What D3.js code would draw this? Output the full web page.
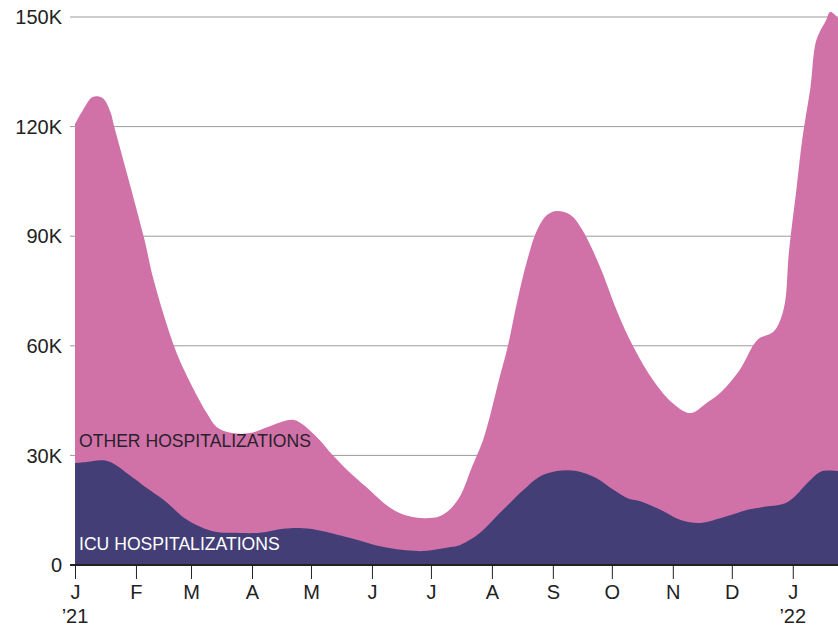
<!DOCTYPE html>
<html>
<head>
<meta charset="utf-8">
<script src="https://cdn.jsdelivr.net/npm/d3@7"></script>
<style>
  body { margin: 0; background: #fff; }
  svg text { font-family: "Liberation Sans", Arial, Helvetica, sans-serif; }
</style>
</head>
<body>
<script>
var width = 838, height = 628;
var margin = {top: 17, right: 0, bottom: 63, left: 75};

// all hospitalizations (top of the stack)
var totalDates = ["2021-01-01","2021-01-05","2021-01-10","2021-01-15","2021-01-19","2021-01-21",
  "2021-02-05","2021-02-10","2021-02-21","2021-02-28","2021-03-09","2021-03-14","2021-03-22",
  "2021-03-31","2021-04-09","2021-04-20","2021-04-24","2021-05-04","2021-05-12","2021-05-21",
  "2021-05-29","2021-06-07","2021-06-15","2021-06-24","2021-07-02","2021-07-06","2021-07-11",
  "2021-07-16","2021-07-22","2021-07-28","2021-08-05","2021-08-09","2021-08-14","2021-08-19",
  "2021-08-24","2021-08-29","2021-09-03","2021-09-10","2021-09-16","2021-09-25","2021-10-04",
  "2021-10-12","2021-10-22","2021-11-01","2021-11-10","2021-11-18","2021-11-25","2021-12-05",
  "2021-12-14","2021-12-22","2021-12-25","2021-12-28","2021-12-30","2022-01-03","2022-01-06",
  "2022-01-10","2022-01-13","2022-01-18","2022-01-20","2022-01-24"];
var totalValues = [120700,124500,128100,127800,124000,119900,
  89800,78000,59000,50600,41600,37800,36100,
  36100,37800,39700,39400,35000,30100,25200,
  21400,17000,14200,12900,12900,13500,15400,
  19000,27000,35000,51500,59700,72500,83500,
  91700,95800,96900,95800,91700,81600,69000,
  59700,50600,44300,41600,44300,47100,53400,
  61600,63800,66200,71700,85400,103500,117200,
  130800,143700,149200,151400,149700];

// ICU hospitalizations (bottom of the stack)
var icuDates = ["2021-01-01","2021-01-07","2021-01-14","2021-01-19","2021-01-30","2021-02-08",
  "2021-02-17","2021-02-25","2021-03-06","2021-03-14","2021-03-22","2021-04-05","2021-04-17",
  "2021-04-25","2021-05-04","2021-05-21","2021-06-07","2021-06-24","2021-07-02","2021-07-11",
  "2021-07-16","2021-07-26","2021-08-05","2021-08-17","2021-08-25","2021-09-03","2021-09-13",
  "2021-09-23","2021-10-02","2021-10-09","2021-10-15","2021-10-27","2021-11-05","2021-11-15",
  "2021-11-26","2021-12-09","2021-12-17","2021-12-27","2022-01-01","2022-01-10","2022-01-16",
  "2022-01-24"];
var icuValues = [27900,28200,28700,28200,24100,20500,
  17000,13100,10400,9000,8800,8800,9900,
  10100,9600,7400,4900,3800,4100,4900,
  5500,8800,14200,20500,24100,25700,25700,
  23800,20500,18300,17500,14800,12300,11500,
  12900,15100,15900,16700,18300,23300,25700,
  25700];

var yTicks = [0, 30000, 60000, 90000, 120000, 150000];
var yTickLabels = ["0", "30K", "60K", "90K", "120K", "150K"];
var monthLabels = ["J","F","M","A","M","J","J","A","S","O","N","D","J"];
var yearLabels = {"2021-01-01": "\u201921", "2022-01-01": "\u201922"};

var parse = d3.timeParse("%Y-%m-%d");
var total = totalDates.map(function(d, i) { return {date: parse(d), value: totalValues[i]}; });
var icu = icuDates.map(function(d, i) { return {date: parse(d), value: icuValues[i]}; });

var x = d3.scaleTime()
    .domain([parse("2021-01-01"), parse("2022-01-24")])
    .range([margin.left, width - margin.right]);
var y = d3.scaleLinear()
    .domain([0, 150000])
    .range([height - margin.bottom, margin.top]);

var svg = d3.select("body").append("svg")
    .attr("width", width)
    .attr("height", height);

// gridlines
svg.append("g").selectAll("line")
    .data(yTicks.slice(1))
  .enter().append("line")
    .attr("x1", margin.left - 5)
    .attr("x2", width)
    .attr("y1", function(d) { return y(d); })
    .attr("y2", function(d) { return y(d); })
    .attr("stroke", "#9a9a9a")
    .attr("stroke-width", 1);

var area = d3.area()
    .x(function(d) { return x(d.date); })
    .y0(y(0))
    .y1(function(d) { return y(d.value); })
    .curve(d3.curveCatmullRom.alpha(0.5));

svg.append("path")
    .attr("d", area(total))
    .attr("fill", "#d072a8");

svg.append("path")
    .attr("d", area(icu))
    .attr("fill", "#433e76");

// y labels
svg.append("g").selectAll("text")
    .data(yTicks)
  .enter().append("text")
    .attr("x", 62)
    .attr("y", function(d) { return y(d); })
    .attr("dy", "0.36em")
    .attr("text-anchor", "end")
    .attr("font-size", 20)
    .attr("fill", "#222")
    .text(function(d, i) { return yTickLabels[i]; });

// baseline
svg.append("line")
    .attr("x1", margin.left - 5)
    .attr("x2", width)
    .attr("y1", y(0))
    .attr("y2", y(0))
    .attr("stroke", "#222")
    .attr("stroke-width", 2);

// x axis
var months = d3.timeMonth.range(parse("2021-01-01"), parse("2022-01-02"));
var xAxis = d3.axisBottom(x)
    .tickValues(months)
    .tickSize(14)
    .tickPadding(6)
    .tickFormat(function(d, i) { return monthLabels[i]; });

var gx = svg.append("g")
    .attr("transform", "translate(0," + y(0) + ")")
    .call(xAxis);
gx.select(".domain").remove();
gx.selectAll(".tick line").attr("stroke", "#222");
gx.selectAll(".tick text")
    .attr("font-size", 20)
    .attr("font-family", "Liberation Sans, Arial, sans-serif")
    .attr("fill", "#222");

svg.append("g").selectAll("text")
    .data(Object.keys(yearLabels))
  .enter().append("text")
    .attr("x", function(d) { return x(parse(d)); })
    .attr("y", 623)
    .attr("text-anchor", "middle")
    .attr("font-size", 20)
    .attr("fill", "#222")
    .text(function(d) { return yearLabels[d]; });

// series labels
svg.append("text")
    .attr("x", 79)
    .attr("y", 447)
    .attr("font-size", 17.6)
    .attr("fill", "#2a1f2b")
    .text("OTHER HOSPITALIZATIONS");

svg.append("text")
    .attr("x", 79)
    .attr("y", 550)
    .attr("font-size", 17.6)
    .attr("fill", "#fff")
    .text("ICU HOSPITALIZATIONS");
</script>
</body>
</html>
